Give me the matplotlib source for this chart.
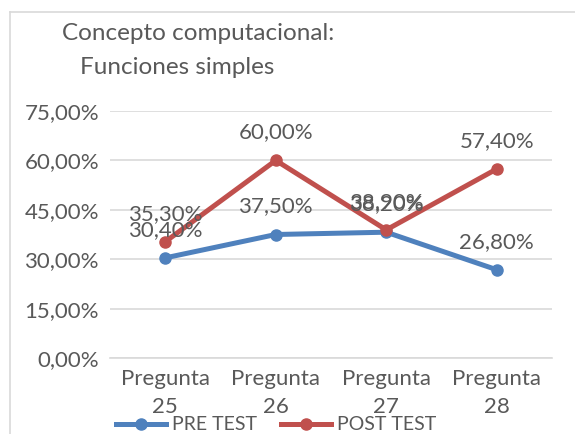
import matplotlib.pyplot as plt
from matplotlib.lines import Line2D

categories = ["Pregunta\n25", "Pregunta\n26", "Pregunta\n27", "Pregunta\n28"]
pre_test = [30.40, 37.50, 38.20, 26.80]
post_test = [35.30, 60.00, 38.90, 57.40]
y_ticks = [0, 15, 30, 45, 60, 75]

plt.rcParams['font.family'] = ['Lato', 'DejaVu Sans']
text_color = '#595959'
blue = '#4F81BD'
red = '#C0504D'

fig = plt.figure(figsize=(5.75, 4.34), dpi=100)
W, H = 575, 434
ax = fig.add_axes([110 / W, 1 - 358 / H, 442 / W, 247 / H])

x = list(range(len(categories)))
ax.plot(x, pre_test, color=blue, lw=3.6, marker='o', ms=8, label='PRE TEST', zorder=3)
ax.plot(x, post_test, color=red, lw=3.6, marker='o', ms=8, label='POST TEST', zorder=3)

def fmt(v):
    return f"{v:.2f}".replace('.', ',') + '%'

for series in (pre_test, post_test):
    for xi, v in zip(x, series):
        ax.annotate(fmt(v), (xi, v), xytext=(0, 13), textcoords='offset points',
                    ha='center', va='bottom', fontsize=16, color=text_color, zorder=4)

ax.set_xlim(-0.5, 3.5)
ax.set_ylim(0, 75)
ax.set_yticks(y_ticks)
ax.set_yticklabels([fmt(v) for v in y_ticks], fontsize=16, color=text_color)
ax.set_xticks(x)
ax.set_xticklabels(categories, fontsize=16, color=text_color, linespacing=1.5)
ax.tick_params(length=0, pad=8)
ax.grid(axis='y', color='#D9D9D9', lw=1.2)
ax.set_axisbelow(True)
for s in ['top', 'right', 'left']:
    ax.spines[s].set_visible(False)
ax.spines['bottom'].set_color('#D9D9D9')
ax.spines['bottom'].set_linewidth(1.2)

fig.text(62 / W, 1 - 33 / H, "Concepto computacional:", ha='left', va='center',
         fontsize=17.5, color=text_color)
fig.text(80 / W, 1 - 67 / H, "Funciones simples", ha='left', va='center',
         fontsize=17.5, color=text_color)

handles = [Line2D([], [], color=blue, lw=3.6, marker='o', ms=8),
           Line2D([], [], color=red, lw=3.6, marker='o', ms=8)]
fig.legend(handles, ['PRE TEST', 'POST TEST'], loc='center', bbox_to_anchor=(276 / W, 1 - 425 / H),
           ncol=2, frameon=False, fontsize=14, labelcolor=text_color,
           handlelength=2.6, handletextpad=0.3, columnspacing=1.2)

# chart frame (top and left edges visible)
fig.add_artist(Line2D([10 / W, 10 / W], [0, 1 - 12 / H], color='#D9D9D9', lw=1.2))
fig.add_artist(Line2D([10 / W, 1], [1 - 12 / H, 1 - 12 / H], color='#D9D9D9', lw=1.2))

fig.savefig('out.png', dpi=100)
